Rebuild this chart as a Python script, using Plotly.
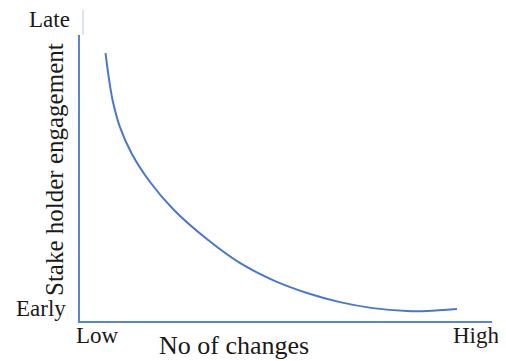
import plotly.graph_objects as go

# Curve values (No of changes 0-100, Stake holder engagement 0-100)
changes = [6.2, 6.9, 7.9, 9.7, 12.6, 17.0, 22.8, 31.1, 38.8, 46.8, 55.1, 63.1, 71.1, 79.4, 84.2, 91.5]
engagement = [93.7, 86.0, 77.3, 67.8, 58.4, 48.6, 38.8, 28.3, 20.3, 14.3, 9.8, 6.6, 4.5, 3.5, 3.5, 4.2]

x_title = "No of changes"
y_title = "Stake holder engagement"
x_low, x_high = "Low", "High"
y_low, y_high = "Early", "Late"

OFF = 8  # page body margin
W, H = 506 - OFF, 361 - OFF
L, T = 80 - OFF, 35 - OFF
pw, ph = 412, 286
R = W - L - pw
B = H - T - ph

def px(x):
    return (x - OFF - L) / pw

def py(y):
    return (T + ph - (y - OFF)) / ph

serif = "Liberation Serif, Times New Roman, serif"

def f(size):
    return dict(family=serif, size=size, color="#1a1a1a")

fig = go.Figure()
fig.add_trace(go.Scatter(
    x=changes, y=engagement, mode="lines",
    line=dict(color="#4a78c8", width=2, shape="spline", smoothing=1.0),
    hoverinfo="skip", showlegend=False,
))

axis_common = dict(
    showgrid=False, zeroline=False, showticklabels=False, ticks="",
    showline=True, linecolor="#5b84d0", linewidth=2, range=[0, 100], fixedrange=True,
)
fig.update_xaxes(**axis_common)
fig.update_yaxes(**axis_common)

annots = [
    dict(text=y_high, x=px(72), y=py(20), xanchor="right", yanchor="middle", font=f(23)),
    dict(text=y_low, x=px(68), y=py(308), xanchor="right", yanchor="middle", font=f(23)),
    dict(text=x_low, x=px(97), y=py(335), xanchor="center", yanchor="middle", font=f(23)),
    dict(text=x_high, x=px(476), y=py(335), xanchor="center", yanchor="middle", font=f(23)),
    dict(text=x_title, x=px(234), y=py(345), xanchor="center", yanchor="middle", font=f(26)),
    dict(text=y_title, x=px(55), y=py(170), xanchor="center", yanchor="middle", textangle=-90, font=f(25)),
]
for a in annots:
    fig.add_annotation(xref="paper", yref="paper", showarrow=False, **a)

# faint extension above the vertical axis
fig.add_shape(type="line", xref="paper", yref="paper",
              x0=px(83), x1=px(83), y0=1.0, y1=py(10),
              line=dict(color="#d0dbf0", width=1.5))

fig.update_layout(
    width=W, height=H,
    margin=dict(l=L, r=R, t=T, b=B),
    paper_bgcolor="white", plot_bgcolor="white",
)

fig.write_html("out.html", config={"displayModeBar": False})
